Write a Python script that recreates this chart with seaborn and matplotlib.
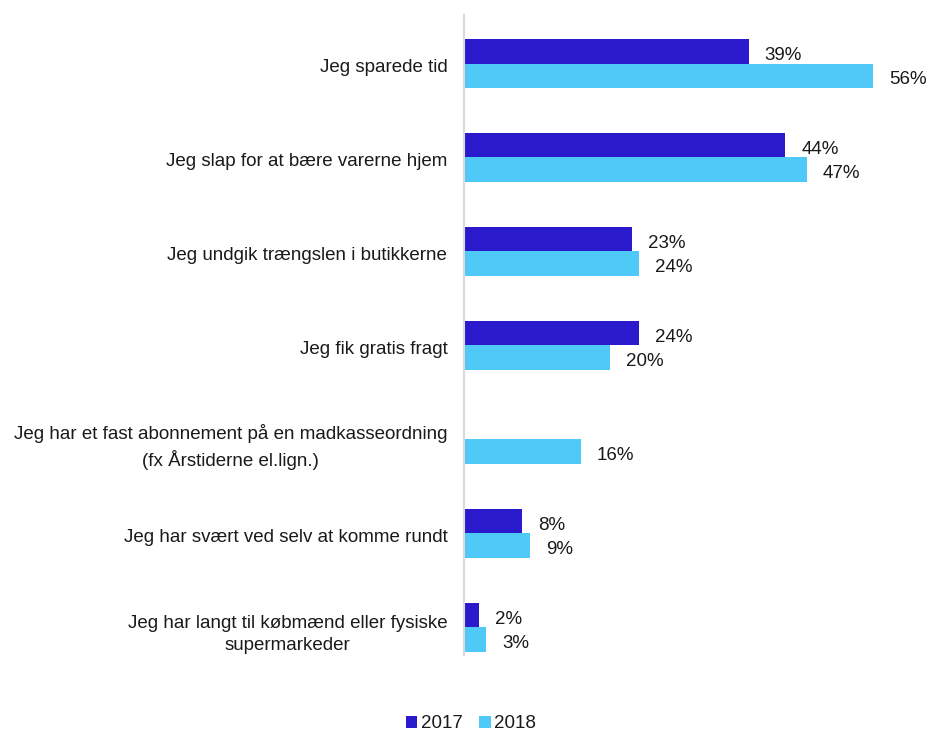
import numpy as np
import pandas as pd
import matplotlib
matplotlib.use("Agg")
import matplotlib.pyplot as plt
import matplotlib.transforms as mtransforms
from matplotlib.patches import Patch
import seaborn as sns

categories = [
    "Jeg sparede tid",
    "Jeg slap for at bære varerne hjem",
    "Jeg undgik trængslen i butikkerne",
    "Jeg fik gratis fragt",
    "Jeg har et fast abonnement på en madkasseordning\n(fx Årstiderne el.lign.)",
    "Jeg har svært ved selv at komme rundt",
    "Jeg har langt til købmænd eller fysiske\nsupermarkeder",
]
years = ["2017", "2018"]
values_2017 = [39, 44, 23, 24, np.nan, 8, 2]
values_2018 = [56, 47, 24, 20, 16, 9, 3]
colors = ["#2B1ACB", "#4FC9F7"]

rows = []
for cat, v17, v18 in zip(categories, values_2017, values_2018):
    if not np.isnan(v17):
        rows.append({"category": cat, "year": "2017", "value": v17})
    rows.append({"category": cat, "year": "2018", "value": v18})
df = pd.DataFrame(rows)

sns.set_theme(style="white")
plt.rcParams["font.family"] = ["Liberation Sans", "DejaVu Sans"]
text_color = "#1a1a1a"
fs = 13.5

fig = plt.figure(figsize=(9.27, 7.35), dpi=100)
ax = fig.add_axes([464 / 927, 80 / 735, 438 / 927, 640 / 735])

sns.barplot(
    data=df, y="category", x="value", hue="year",
    order=categories, hue_order=years, palette=colors,
    orient="h", width=0.52, dodge=True, linewidth=0, saturation=1,
    legend=False, ax=ax,
)

# value labels, nudged slightly below the bar centre
for container in ax.containers:
    anns = ax.bar_label(container, fmt="%.0f%%", padding=11.5,
                        fontsize=fs, color=text_color)
    for ann in anns:
        dx, dy = ann.xyann
        ann.xyann = (dx, dy - 3)

ax.set_xlim(0, 60)
ax.set_ylim(6.293, -0.516)
ax.set_xlabel("")
ax.set_ylabel("")
ax.set_xticks([])
ax.tick_params(axis="y", length=0, pad=12, labelsize=fs, labelcolor=text_color)
shift = mtransforms.ScaledTranslation(0, -1.5 / 72, fig.dpi_scale_trans)
for lbl in ax.get_yticklabels():
    lbl.set_multialignment("center")
    lbl.set_linespacing(1.45)
    lbl.set_transform(lbl.get_transform() + shift)

for side in ["top", "right", "bottom"]:
    ax.spines[side].set_visible(False)
ax.spines["left"].set_color("#d9d9d9")
ax.spines["left"].set_linewidth(1.5)

handles = [Patch(facecolor=c, edgecolor="none") for c in colors]
fig.legend(handles, years, loc="center", bbox_to_anchor=(0.508, 0.015),
           ncol=2, frameon=False, fontsize=fs, handlelength=0.6,
           handleheight=0.6, handletextpad=0.2, columnspacing=0.9,
           borderpad=0.1, labelcolor=text_color)

fig.savefig("out.png", dpi=100, facecolor="white")
